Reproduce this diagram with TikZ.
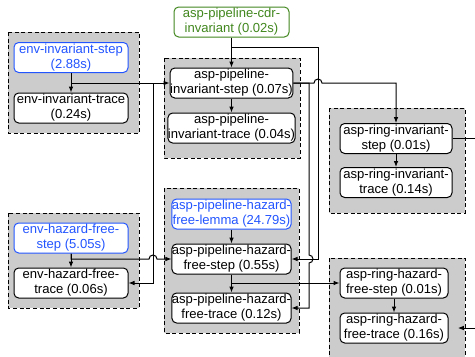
\documentclass[tikz,border=0pt]{standalone}
\usepackage{fontspec}
\setmainfont{Liberation Sans}
\usepackage{xcolor}
\usepackage{tikz}
\usetikzlibrary{arrows.meta}

\definecolor{lemmablue}{RGB}{35,85,255}
\definecolor{cdrgreen}{RGB}{65,135,30}
\definecolor{clustergray}{RGB}{204,204,204}

\begin{document}
\begin{tikzpicture}[x=0.75pt,y=0.75pt,yscale=-1,xscale=1,
  task/.style={draw,fill=white,rounded corners=3.5pt,line width=0.75pt,minimum width=86.25pt,minimum height=22.5pt,inner sep=0pt,align=center,font=\fontsize{9.8}{11.3}\selectfont},
  lemmatask/.style={task,draw=lemmablue,text=lemmablue},
  cdrtask/.style={task,draw=cdrgreen,text=cdrgreen},
  cluster/.style={draw,fill=clustergray,line width=0.75pt,dash pattern=on 3pt off 2pt},
  dep/.style={draw,line width=0.75pt,-{Latex[length=4.5pt,width=3.5pt]}}]

\useasboundingbox (0,0) rectangle (475,357);
\clip (0,0) rectangle (475,357);

% clusters
\draw [cluster] (8,32) rectangle (139,133);
\draw [cluster] (164,58) rectangle (300,158);
\draw [cluster] (329,108) rectangle (465,213);
\draw [cluster] (8,213) rectangle (139,308);
\draw [cluster] (164,188) rectangle (299,333);
\draw [cluster] (329,258) rectangle (465,375);

% tasks
\node [lemmatask,minimum width=85.5pt] (envinvstep) at (71,57.5) {env-invariant-step\\(2.88s)};
\node [task,minimum width=85.5pt] (envinvtrace) at (71,108) {env-invariant-trace\\(0.24s)};

\node [cdrtask] (cdr) at (231.5,22) {asp-pipeline-cdr-\\invariant (0.02s)};
\node [task] (pipinvstep) at (231.5,83) {asp-pipeline-\\invariant-step (0.07s)};
\node [task] (pipinvtrace) at (231.5,128) {asp-pipeline-\\invariant-trace (0.04s)};

\node [task,minimum width=84pt] (ringinvstep) at (396,138.5) {asp-ring-invariant-\\step (0.01s)};
\node [task,minimum width=84pt] (ringinvtrace) at (396,182.5) {asp-ring-invariant-\\trace (0.14s)};

\node [lemmatask,minimum width=85.5pt] (envhfstep) at (71,238) {env-hazard-free-\\step (5.05s)};
\node [task,minimum width=85.5pt] (envhftrace) at (71,283) {env-hazard-free-\\trace (0.06s)};

\node [lemmatask] (piphflemma) at (231.5,214) {asp-pipeline-hazard-\\free-lemma (24.79s)};
\node [task] (piphfstep) at (231.5,259) {asp-pipeline-hazard-\\free-step (0.55s)};
\node [task] (piphftrace) at (231.5,308) {asp-pipeline-hazard-\\free-trace (0.12s)};

\node [task,minimum width=81pt] (ringhfstep) at (394,283) {asp-ring-hazard-\\free-step (0.01s)};
\node [task,minimum width=81pt] (ringhftrace) at (394,328) {asp-ring-hazard-\\free-trace (0.16s)};

% dependencies
\draw [dep] (envinvstep) -- (envinvtrace);
\draw [dep] (envinvstep.south) |- (pipinvstep.west);
\draw [dep] (envinvstep.south) |- (153,83) |- (envhftrace.east);

\draw [dep] (envhfstep) -- (envhftrace);
\draw [dep] (envhfstep.south) |- (149,259) arc[start angle=180,end angle=360,radius=4] -- (piphfstep.west);

\draw [dep] (cdr) -- (pipinvstep);
\draw [dep] (cdr.south) |- (318,47) |- (piphfstep.east);

\draw [dep] (pipinvstep) -- (pipinvtrace);
\draw [dep] (pipinvstep.east) -- (314,83) arc[start angle=180,end angle=360,radius=4] -| (ringinvstep.north);
\draw [dep] (pipinvstep.east) -| (309,255) arc[start angle=-90,end angle=90,radius=4] |- (piphftrace.east);

\draw [dep] (piphflemma) -- (piphfstep);
\draw [dep] (piphfstep) -- (piphftrace);
\draw [dep] (piphfstep.south) |- (ringhfstep.west);

\draw [dep] (ringinvstep) -- (ringinvtrace);
\draw [dep] (ringhfstep) -- (ringhftrace);
\draw [dep,shorten >=7pt] (ringinvstep.east) -- (490,138.5) |- (ringhftrace.east);

\end{tikzpicture}
\end{document}
